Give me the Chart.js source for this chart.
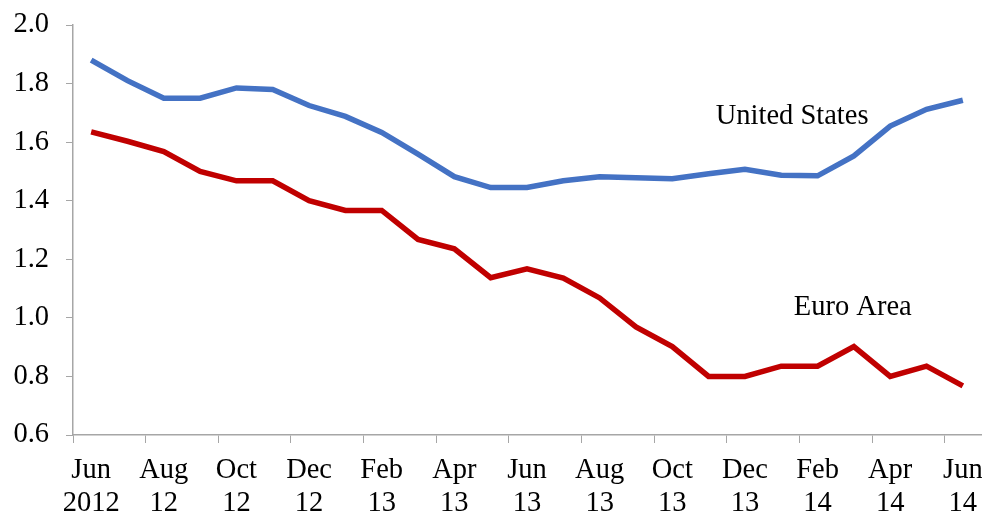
<!DOCTYPE html>
<html>
<head>
<meta charset="utf-8">
<script src="https://cdn.jsdelivr.net/npm/chart.js@4"></script>
<style>
  html, body { margin: 0; padding: 0; background: #fff; }
  #wrap { width: 982px; height: 514px; }
</style>
</head>
<body>
<div id="wrap"><canvas id="myChart" width="982" height="514"></canvas></div>
<script>
// Month labels, Jun 2012 .. Jun 2014 (two-line labels, shown every 2nd month)
const months = [
    ['Jun', '2012'], ['Jul', '12'], ['Aug', '12'], ['Sep', '12'], ['Oct', '12'], ['Nov', '12'],
    ['Dec', '12'], ['Jan', '13'], ['Feb', '13'], ['Mar', '13'], ['Apr', '13'], ['May', '13'],
    ['Jun', '13'], ['Jul', '13'], ['Aug', '13'], ['Sep', '13'], ['Oct', '13'], ['Nov', '13'],
    ['Dec', '13'], ['Jan', '14'], ['Feb', '14'], ['Mar', '14'], ['Apr', '14'], ['May', '14'],
    ['Jun', '14']
];

const unitedStates = [1.88, 1.81, 1.75, 1.75, 1.785, 1.78, 1.725, 1.688, 1.633, 1.559, 1.482, 1.445,
    1.445, 1.468, 1.482, 1.478, 1.475, 1.492, 1.507, 1.487, 1.485, 1.553, 1.655, 1.712, 1.743];

const euroArea = [1.635, 1.603, 1.568, 1.50, 1.468, 1.468, 1.40, 1.367, 1.367, 1.268, 1.236, 1.137,
    1.167, 1.136, 1.068, 0.969, 0.902, 0.80, 0.80, 0.835, 0.835, 0.902, 0.80, 0.835, 0.768];

const yTicks = [0.6, 0.8, 1.0, 1.2, 1.4, 1.6, 1.8, 2.0];

// Series name labels drawn inside the plot: [text, category index, value]
const seriesLabels = [
    ['United States', 19.3, 1.689],
    ['Euro Area', 20.97, 1.035]
];

const axisGray = '#a6a6a6';
const serif = 'Liberation Serif, Times New Roman, serif';

// Plugin that writes the series names onto the plot
const seriesLabelPlugin = {
    id: 'seriesLabels',
    afterDatasetsDraw(chart) {
        const ctx = chart.ctx;
        const x = chart.scales.x;
        const y = chart.scales.y;
        ctx.save();
        ctx.fillStyle = '#000';
        ctx.font = '28.5px ' + serif;
        ctx.textAlign = 'center';
        ctx.textBaseline = 'middle';
        seriesLabels.forEach(item => {
            const px = x.left + (item[1] + 0.5) * (x.width / months.length);
            ctx.fillText(item[0], px, y.getPixelForValue(item[2]));
        });
        ctx.restore();
    }
};

const ctx = document.getElementById('myChart').getContext('2d');
const myChart = new Chart(ctx, {
    type: 'line',
    data: {
        labels: months,
        datasets: [
            {
                label: 'United States',
                data: unitedStates,
                borderColor: '#4472C4',
                borderWidth: 5.5,
                pointRadius: 0,
                tension: 0,
                fill: false
            },
            {
                label: 'Euro Area',
                data: euroArea,
                borderColor: '#C00000',
                borderWidth: 5.5,
                pointRadius: 0,
                tension: 0,
                fill: false
            }
        ]
    },
    options: {
        responsive: false,
        animation: false,
        layout: { padding: { top: 25, right: 1, left: 0, bottom: 0 } },
        plugins: {
            legend: { display: false },
            tooltip: { enabled: false }
        },
        scales: {
            x: {
                type: 'category',
                offset: true,
                grid: {
                    offset: true,
                    drawOnChartArea: false,
                    drawTicks: true,
                    tickLength: 8,
                    color: c => (c.index % 2 === 0 ? axisGray : 'rgba(0,0,0,0)')
                },
                border: { color: axisGray, width: 1.5 },
                ticks: {
                    autoSkip: false,
                    maxRotation: 0,
                    color: '#000',
                    padding: 11,
                    font: { family: serif, size: 28.5, lineHeight: 1.15 },
                    callback: function (value, index) {
                        return index % 2 === 0 ? this.getLabelForValue(value) : '';
                    }
                },
                afterFit: scale => {
                    scale.height = 79;
                    scale.paddingLeft = 0;
                    scale.paddingRight = 0;
                }
            },
            y: {
                min: 0.6,
                max: 2.0,
                afterBuildTicks: scale => { scale.ticks = yTicks.map(v => ({ value: v })); },
                grid: {
                    drawOnChartArea: false,
                    drawTicks: true,
                    tickLength: 7,
                    color: axisGray
                },
                border: { color: axisGray, width: 1.5 },
                ticks: {
                    color: '#000',
                    padding: 17,
                    font: { family: serif, size: 28.5 },
                    callback: v => v.toFixed(1)
                },
                afterFit: scale => {
                    scale.width = 73;
                    scale.paddingTop = 0;
                    scale.paddingBottom = 0;
                }
            }
        }
    },
    plugins: [seriesLabelPlugin]
});
</script>
</body>
</html>
